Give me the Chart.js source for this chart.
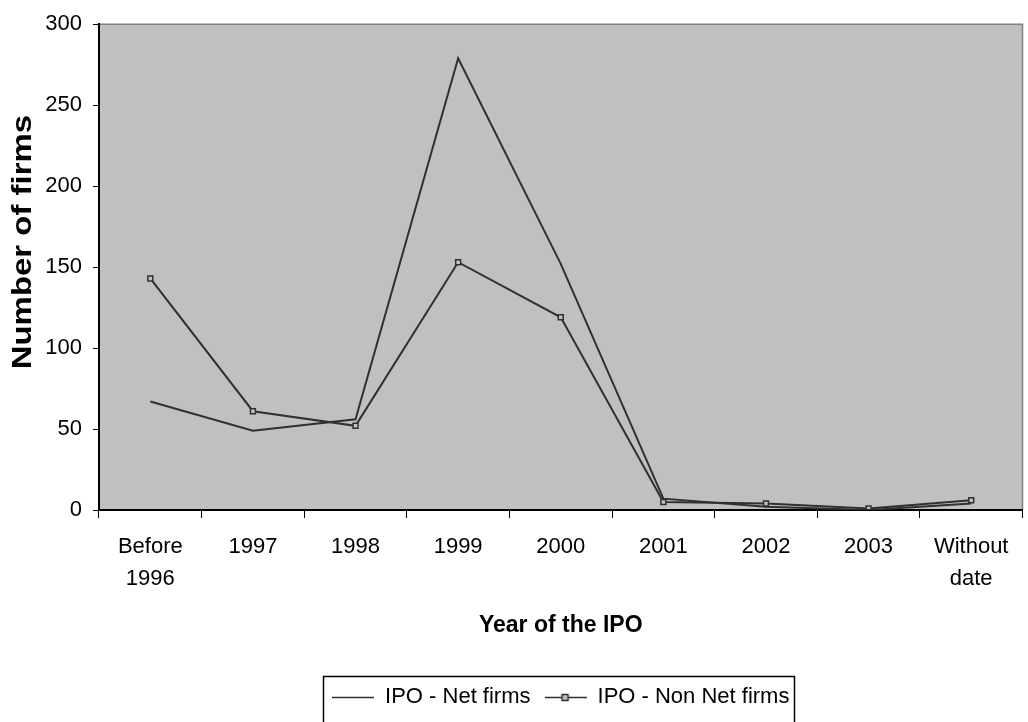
<!DOCTYPE html>
<html>
<head>
<meta charset="utf-8">
<script src="https://cdn.jsdelivr.net/npm/chart.js@4/dist/chart.umd.min.js"></script>
<style>
  html, body { margin: 0; padding: 0; background: #fff; }
  #wrap { width: 1028px; height: 722px; }
</style>
</head>
<body>
<div id="wrap"><canvas id="chartIPO"></canvas></div>
<script>
const categorias = [['Before', '1996'], '1997', '1998', '1999', '2000', '2001', '2002', '2003', ['Without', 'date']]
const netFirms = [67, 49, 56, 279, 152, 7, 2, 0, 4]
const nonNetFirms = [143, 61, 52, 153, 119, 5, 4, 1, 6]
const yTicks = [0, 50, 100, 150, 200, 250, 300]
const tituloY = 'Number of firms'
const tituloX = 'Year of the IPO'

const corLinha = '#303030'
const fundo = '#c0c0c0'
const fonte = '"Liberation Sans", Arial, sans-serif'

// legend symbols (line, line with square marker)
function simbolo(comMarcador){
    const c = document.createElement('canvas')
    c.width = 42
    c.height = 12
    const ctx = c.getContext('2d')
    ctx.strokeStyle = corLinha
    ctx.lineWidth = 1.5
    ctx.beginPath()
    ctx.moveTo(0, 6.5)
    ctx.lineTo(42, 6.5)
    ctx.stroke()
    if (comMarcador) {
        ctx.fillStyle = fundo
        ctx.fillRect(17.5, 3.5, 6, 6)
        ctx.strokeRect(17.5, 3.5, 6, 6)
    }
    return c
}

const fundoPlot = {
    id: 'fundoPlot',
    beforeDraw(chart){
        const {ctx, chartArea: a} = chart
        ctx.save()
        ctx.fillStyle = fundo
        ctx.fillRect(a.left, a.top, a.right - a.left, a.bottom - a.top)
        ctx.strokeStyle = '#808080'
        ctx.lineWidth = 1.5
        ctx.beginPath()
        ctx.moveTo(a.left, a.top)
        ctx.lineTo(a.right, a.top)
        ctx.lineTo(a.right, a.bottom)
        ctx.stroke()
        ctx.restore()
    }
}

// y title drawn by hand: the reference stretches it along its length
const tituloEixoY = {
    id: 'tituloEixoY',
    afterDraw(chart){
        const {ctx, chartArea: a} = chart
        ctx.save()
        ctx.translate(24, (a.top + a.bottom) / 2 - 25)
        ctx.rotate(-Math.PI / 2)
        ctx.scale(1.22, 1)
        ctx.font = 'bold 27px ' + fonte
        ctx.fillStyle = '#000'
        ctx.textAlign = 'center'
        ctx.textBaseline = 'middle'
        ctx.fillText(tituloY, 0, 0)
        ctx.restore()
    }
}

const caixaLegenda = {
    id: 'caixaLegenda',
    afterDraw(chart){
        const boxes = chart.legend.legendHitBoxes
        if (!boxes || !boxes.length) return
        let x0 = Infinity, y0 = Infinity, x1 = -Infinity, y1 = -Infinity
        boxes.forEach(b => {
            x0 = Math.min(x0, b.left); y0 = Math.min(y0, b.top)
            x1 = Math.max(x1, b.left + b.width); y1 = Math.max(y1, b.top + b.height)
        })
        const meio = (y0 + y1) / 2
        const ctx = chart.ctx
        ctx.save()
        ctx.strokeStyle = '#000'
        ctx.lineWidth = 1.5
        ctx.strokeRect(Math.round(x0 - 9) + 0.5, Math.round(meio - 21) + 0.5, Math.round(x1 - x0 + 14), 60)
        ctx.restore()
    }
}

new Chart(document.getElementById('chartIPO'), {
    type: 'line',
    data: {
        labels: categorias,
        datasets: [{
            label: 'IPO - Net firms',
            data: netFirms,
            borderColor: corLinha,
            borderWidth: 2,
            pointRadius: 0,
            tension: 0
        }, {
            label: 'IPO - Non Net firms',
            data: nonNetFirms,
            borderColor: corLinha,
            borderWidth: 2,
            pointRadius: 3.5,
            pointBorderWidth: 1.5,
            pointStyle: 'rect',
            pointBackgroundColor: fundo,
            pointBorderColor: corLinha,
            tension: 0
        }]
    },
    options: {
        responsive: true,
        maintainAspectRatio: false,
        animation: false,
        layout: { padding: { top: 22, right: 2, left: 0, bottom: 4 } },
        plugins: {
            tooltip: { enabled: false },
            legend: {
                position: 'bottom',
                fullSize: false,
                labels: {
                    color: '#000',
                    font: { family: fonte, size: 22 },
                    usePointStyle: true,
                    pointStyleWidth: 42,
                    padding: 14,
                    generateLabels(chart){
                        return chart.data.datasets.map((d, i) => ({
                            text: d.label,
                            pointStyle: simbolo(i == 1),
                            fontColor: '#000',
                            strokeStyle: corLinha,
                            lineWidth: 0,
                            datasetIndex: i
                        }))
                    }
                }
            }
        },
        scales: {
            x: {
                offset: true,
                grid: { offset: true, drawOnChartArea: false, drawTicks: true, tickLength: 8, color: '#000' },
                border: { display: true, color: '#000', width: 2 },
                ticks: { color: '#000', font: { family: fonte, size: 22, lineHeight: 32 / 22 }, padding: 13, maxRotation: 0, autoSkip: false },
                title: { display: true, text: tituloX, color: '#000', font: { family: fonte, size: 23, weight: 'bold' }, padding: { top: 0, bottom: 33 } },
                afterFit(scale){ scale.height = 162 }
            },
            y: {
                min: 0,
                max: 300,
                afterBuildTicks(scale){ scale.ticks = yTicks.map(v => ({ value: v })) },
                grid: { drawOnChartArea: false, drawTicks: true, tickLength: 6, color: '#000' },
                border: { display: true, color: '#000', width: 2 },
                ticks: { color: '#000', font: { family: fonte, size: 22 }, padding: 11 },
                afterFit(scale){ scale.width = 99 }
            }
        }
    },
    plugins: [fundoPlot, tituloEixoY, caixaLegenda]
})
</script>
</body>
</html>
